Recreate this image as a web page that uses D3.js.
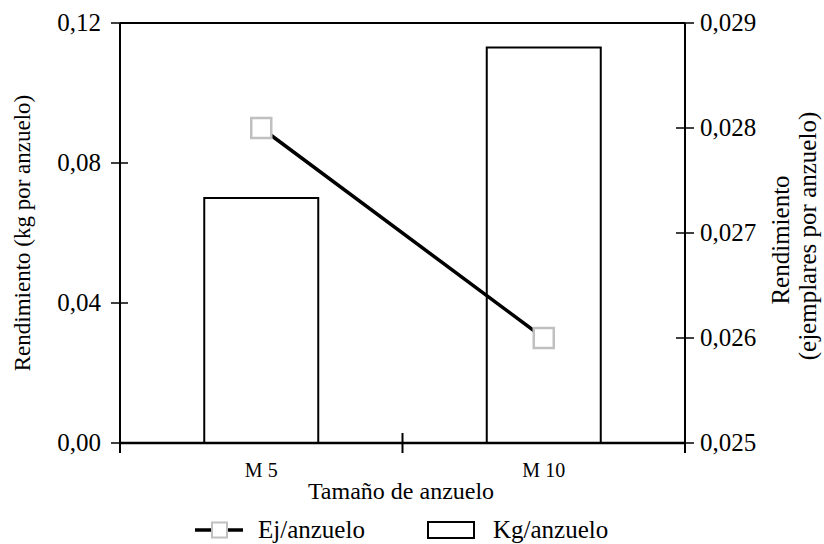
<!DOCTYPE html>
<html><head><meta charset="utf-8">
<script src="https://cdn.jsdelivr.net/npm/d3@7"></script>
<style>body{margin:0;background:#fff;} svg text{font-family:'Liberation Serif','Times New Roman',Times,serif;fill:#000;}</style>
</head><body>
<svg id="c" width="824" height="544"></svg>
<script>
const categories = ["M 5", "M 10"];
const kgPerHook = [0.070, 0.113];
const ejPerHook = [0.028, 0.026];
const leftTicks = [0, 0.04, 0.08, 0.12];
const rightTicks = [0.025, 0.026, 0.027, 0.028, 0.029];
const fmt = (d, n) => d.toFixed(n).replace(".", ",");

const svg = d3.select("#c");
const FF = "'Liberation Serif','Times New Roman',Times,serif";
const txt = (sel) => sel.append("text").style("font-family", FF);
const L = 120, R = 685, T = 23, B = 443;
const x = d3.scaleBand().domain(categories).range([L, R]).paddingInner(0).paddingOuter(0);
const yL = d3.scaleLinear().domain([0, 0.12]).range([B, T]);
const yR = d3.scaleLinear().domain([0.025, 0.029]).range([B, T]);
const bw = 114;

// bars
svg.selectAll("rect.bar").data(categories).join("rect")
  .attr("x", d => x(d) + x.bandwidth()/2 - bw/2)
  .attr("y", (d,i) => yL(kgPerHook[i]))
  .attr("width", bw)
  .attr("height", (d,i) => B - yL(kgPerHook[i]))
  .attr("fill", "#fff").attr("stroke", "#000").attr("stroke-width", 2);

// top border
svg.append("line").attr("x1", L).attr("x2", R).attr("y1", T).attr("y2", T).attr("stroke", "#000").attr("stroke-width", 2);

// left axis
svg.append("line").attr("x1", L).attr("x2", L).attr("y1", T).attr("y2", B + 10).attr("stroke", "#000").attr("stroke-width", 2);
leftTicks.forEach(t => {
  svg.append("line").attr("x1", L - 9).attr("x2", (t === 0 || t === 0.12) ? L : L + 8).attr("y1", yL(t)).attr("y2", yL(t)).attr("stroke", "#000").attr("stroke-width", 1.5);
  txt(svg).attr("x", 101).attr("y", yL(t)).attr("dy", "0.32em").attr("text-anchor", "end")
    .style("font-size", "25px").text(fmt(t, 2));
});

// right axis
svg.append("line").attr("x1", R).attr("x2", R).attr("y1", T).attr("y2", B + 10).attr("stroke", "#000").attr("stroke-width", 2);
rightTicks.forEach(t => {
  svg.append("line").attr("x1", R - 9).attr("x2", R + 9).attr("y1", yR(t)).attr("y2", yR(t)).attr("stroke", "#000").attr("stroke-width", 1.5);
  txt(svg).attr("x", 700).attr("y", yR(t)).attr("dy", "0.32em").attr("text-anchor", "start")
    .style("font-size", "25px").text(fmt(t, 3));
});

// x axis
svg.append("line").attr("x1", L).attr("x2", R).attr("y1", B).attr("y2", B).attr("stroke", "#000").attr("stroke-width", 2.5);
const mid = x(categories[1]);
svg.append("line").attr("x1", mid).attr("x2", mid).attr("y1", B - 10).attr("y2", B + 10).attr("stroke", "#000").attr("stroke-width", 2);
categories.forEach(c => {
  txt(svg).attr("x", x(c) + x.bandwidth()/2).attr("y", 477).attr("text-anchor", "middle")
    .style("font-size", "20px").text(c);
});
txt(svg).attr("x", 401).attr("y", 499).attr("text-anchor", "middle").style("font-size", "24px").text("Tamaño de anzuelo");

// axis titles
txt(svg).attr("transform", "translate(30,233) rotate(-90)").attr("text-anchor", "middle")
  .style("font-size", "23px").text("Rendimiento (kg por anzuelo)");
txt(svg).attr("transform", "translate(789,240) rotate(-90)").attr("text-anchor", "middle")
  .style("font-size", "25px").text("Rendimiento");
txt(svg).attr("transform", "translate(816,236) rotate(-90)").attr("text-anchor", "middle")
  .style("font-size", "25px").text("(ejemplares por anzuelo)");

// line series
const pts = categories.map((c, i) => [x(c) + x.bandwidth()/2, yR(ejPerHook[i])]);
svg.append("path").attr("d", d3.line()(pts)).attr("fill", "none").attr("stroke", "#000").attr("stroke-width", 3.5);
const ms = 20;
svg.selectAll("rect.mk").data(pts).join("rect")
  .attr("x", d => d[0] - ms/2).attr("y", d => d[1] - ms/2).attr("width", ms).attr("height", ms)
  .attr("fill", "#fff").attr("stroke", "#c0c0c0").attr("stroke-width", 2.5);

// legend
const ly = 530;
svg.append("line").attr("x1", 195).attr("x2", 243).attr("y1", ly).attr("y2", ly).attr("stroke", "#000").attr("stroke-width", 3.5);
svg.append("rect").attr("x", 212).attr("y", ly - 7.5).attr("width", 15).attr("height", 15)
  .attr("fill", "#fff").attr("stroke", "#c0c0c0").attr("stroke-width", 2);
txt(svg).attr("x", 258).attr("y", ly).attr("dy", "0.32em").style("font-size", "25px").text("Ej/anzuelo");
svg.append("rect").attr("x", 428).attr("y", 522).attr("width", 46).attr("height", 16)
  .attr("fill", "#fff").attr("stroke", "#000").attr("stroke-width", 2);
txt(svg).attr("x", 493).attr("y", ly).attr("dy", "0.32em").style("font-size", "25px").text("Kg/anzuelo");
</script>
</body></html>
